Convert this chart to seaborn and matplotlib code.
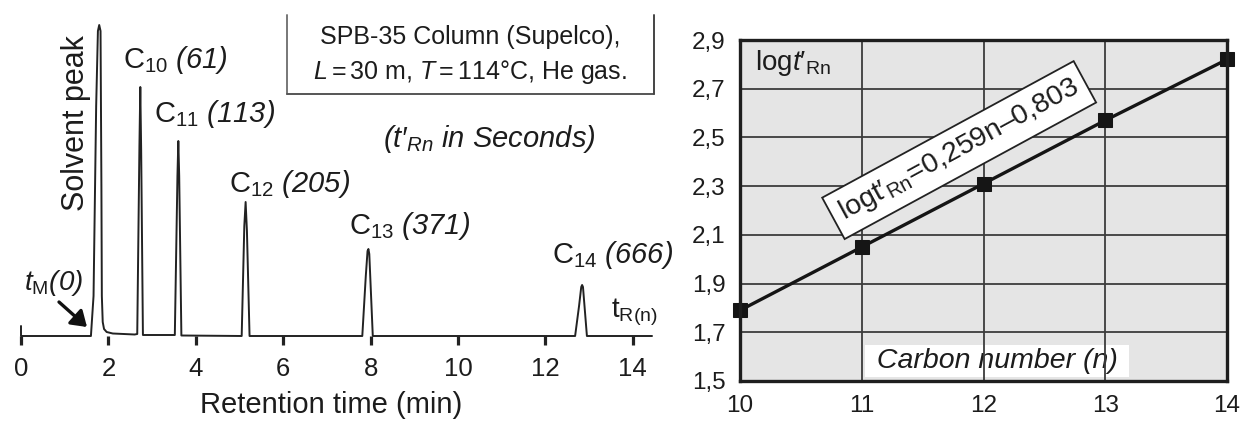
import matplotlib
matplotlib.use("Agg")
import matplotlib.pyplot as plt
import seaborn as sns
import pandas as pd
from matplotlib.lines import Line2D

# ---------------- data ----------------
# chromatogram trace (retention time in min, detector signal in arbitrary units)
trace_time = [0.0, 0.0, 1.60, 1.66, 1.72, 1.76, 1.79, 1.82, 1.84, 1.85, 1.87, 1.90, 1.96, 2.10, 2.60,
              2.66, 2.71, 2.73, 2.75, 2.79,
              3.52, 3.58, 3.60, 3.62, 3.67,
              5.05, 5.11, 5.14, 5.17, 5.23,
              7.81, 7.89, 7.93, 7.95, 7.97, 8.05,
              12.68, 12.77, 12.82, 12.84, 12.86, 12.95, 14.44]
trace_signal = [10, 0, 0, 40, 230, 305, 311, 305, 150, 40, 14, 7, 4, 2.5, 1.5,
                2, 190, 249, 185, 1,
                1, 160, 195, 160, 0.5,
                0, 110, 134, 105, 0,
                0, 60, 85, 87, 82, 0,
                0, 30, 49, 51, 49, 0, 0]

peak_names = ["C$_{10}$", "C$_{11}$", "C$_{12}$", "C$_{13}$", "C$_{14}$"]
peak_tprime_s = [61, 113, 205, 371, 666]

time_ticks = [0, 2, 4, 6, 8, 10, 12, 14]
time_tick_labels = ["0", "2", "4", "6", "8", "10", "12", "14"]

carbon_n = [10, 11, 12, 13, 14]
log_tprime = [1.79, 2.05, 2.31, 2.57, 2.82]
n_ticks = [10, 11, 12, 13, 14]
n_tick_labels = ["10", "11", "12", "13", "14"]
log_ticks = [1.5, 1.7, 1.9, 2.1, 2.3, 2.5, 2.7, 2.9]
log_tick_labels = ["1,5", "1,7", "1,9", "2,1", "2,3", "2,5", "2,7", "2,9"]

# ---------------- style ----------------
sns.set_theme(style="white")
plt.rcParams["font.family"] = ["Liberation Sans", "DejaVu Sans"]
plt.rcParams["mathtext.fontset"] = "custom"
plt.rcParams["mathtext.rm"] = "Liberation Sans"
plt.rcParams["mathtext.it"] = "Liberation Sans:italic"
plt.rcParams["mathtext.bf"] = "Liberation Sans:bold"
plt.rcParams["mathtext.sf"] = "Liberation Sans:italic"   # used for italic digits
INK = "#1c1c1c"
plt.rcParams["text.color"] = INK

W, H = 1240, 422
fig = plt.figure(figsize=(W / 100, H / 100), dpi=100)
fig.patch.set_facecolor("white")


def P(x, y):
    """figure-pixel position (from top-left) -> figure fraction"""
    return x / W, 1 - y / H


def box(l, t, r, b):
    return [l / W, 1 - b / H, (r - l) / W, (b - t) / H]


# ---------------- left: chromatogram ----------------
axL = fig.add_axes(box(21, 20, 21 + 14.5 * 43.7, 336))
df = pd.DataFrame({"t": trace_time, "s": trace_signal})
sns.lineplot(data=df, x="t", y="s", ax=axL, sort=False, estimator=None,
             color="#222222", lw=1.4)
for ln in axL.lines:
    ln.set_clip_on(False)
axL.set_xlim(0, 14.5)
axL.set_ylim(0, 316)
for sp in axL.spines.values():
    sp.set_visible(False)
axL.set_yticks([])
axL.set_xticks(time_ticks)
axL.set_xticklabels(time_tick_labels)
axL.tick_params(axis="x", direction="out", length=6.8, width=2.3, color="#222222",
                labelsize=18.5, pad=8.5, labelcolor=INK, bottom=True)
axL.set_xlabel("Retention time (min)", fontsize=21, color=INK)
axL.xaxis.set_label_coords((331 - 21) / (14.5 * 43.7), -0.175)
axL.set_ylabel("")
axL.patch.set_alpha(0)

# peak labels
label_pos = [(123, 68), (154, 122), (229, 192), (349, 234), (552, 263)]
for name, tp, (px, py) in zip(peak_names, peak_tprime_s, label_pos):
    fig.text(*P(px, py), f"{name} $\\mathsf{{({tp})}}$", fontsize=21,
             ha="left", va="baseline")

fig.text(*P(76, 123), "Solvent peak", fontsize=22, rotation=90, ha="center", va="center")
fig.text(*P(383, 147), "(t′$_{Rn}$ in Seconds)", fontsize=21, style="italic",
         ha="left", va="baseline")
fig.text(*P(24, 290), "t$_{\\mathrm{M}}$(0)", fontsize=20, style="italic",
         ha="left", va="baseline")
fig.text(*P(611, 318), "t$_{\\mathrm{R(n)}}$", fontsize=20, ha="left", va="baseline")

# arrow to t_M
fig.patches.append(matplotlib.patches.FancyArrowPatch(
    P(59, 302), P(87, 327), transform=fig.transFigure,
    arrowstyle="-|>,head_length=0.6,head_width=0.4",
    mutation_scale=15, lw=2.4, color="#111111", shrinkA=0, shrinkB=0))

# column description box (open at the top, as cropped in the reference)
for (x0, y0, x1, y1, c) in [(287, 15, 287, 94, "#777777"), (287, 94, 654, 94, "#555555"),
                            (654, 15, 654, 94, "#444444")]:
    fig.add_artist(Line2D([x0 / W, x1 / W], [1 - y0 / H, 1 - y1 / H],
                          transform=fig.transFigure, color=c, lw=1.4))
fig.text(*P(470, 44), "SPB-35 Column (Supelco),", fontsize=18, ha="center", va="baseline")
fig.text(*P(470, 79), "$\\mathit{L}=30$ m, $\\mathit{T}=114$°C, He gas.", fontsize=18,
         ha="center", va="baseline")

# ---------------- right: log t' vs n ----------------
axR = fig.add_axes(box(740, 40, 1227, 381))
axR.set_facecolor("#e5e5e5")
axR.set_axisbelow(True)
axR.grid(True, color="#3c3c3c", lw=1.3)
sns.lineplot(x=carbon_n, y=log_tprime, ax=axR, color="#151515", lw=2.4,
             marker="s", markersize=9.5, markeredgecolor="#151515", markerfacecolor="#151515")
for ln in axR.lines:
    ln.set_clip_on(False)
axR.set_xlim(10, 14)
axR.set_ylim(1.5, 2.9)
axR.set_xticks(n_ticks)
axR.set_xticklabels(n_tick_labels)
axR.set_yticks(log_ticks)
axR.set_yticklabels(log_tick_labels)
axR.tick_params(axis="both", length=0, labelsize=17.5, labelcolor=INK)
axR.tick_params(axis="y", pad=10.5)
axR.tick_params(axis="x", pad=10)
for sp in axR.spines.values():
    sp.set_color("#1e1e1e")
    sp.set_linewidth(2.4)
axR.set_xlabel("")
axR.set_ylabel("")

axR.text(0.031, (381 - 70) / 341, "log$t$′$_{\\mathrm{Rn}}$", transform=axR.transAxes,
         fontsize=20, ha="left", va="baseline")
axR.text(0.528, (381 - 361) / 341, " Carbon number (n) ", transform=axR.transAxes,
         fontsize=20.5, style="italic", ha="center", va="center", zorder=0.3,
         bbox=dict(boxstyle="square,pad=0.12", fc="white", ec="none"))
axR.text(11.80, 2.448, "logt′$_{\\mathrm{Rn}}$=0,259n–0,803", fontsize=20.5,
         rotation=28.5, rotation_mode="anchor", ha="center", va="center", zorder=5,
         bbox=dict(boxstyle="square,pad=0.3", fc="white", ec="#222222", lw=1.3))

fig.savefig("out.png", dpi=100, facecolor="white")
